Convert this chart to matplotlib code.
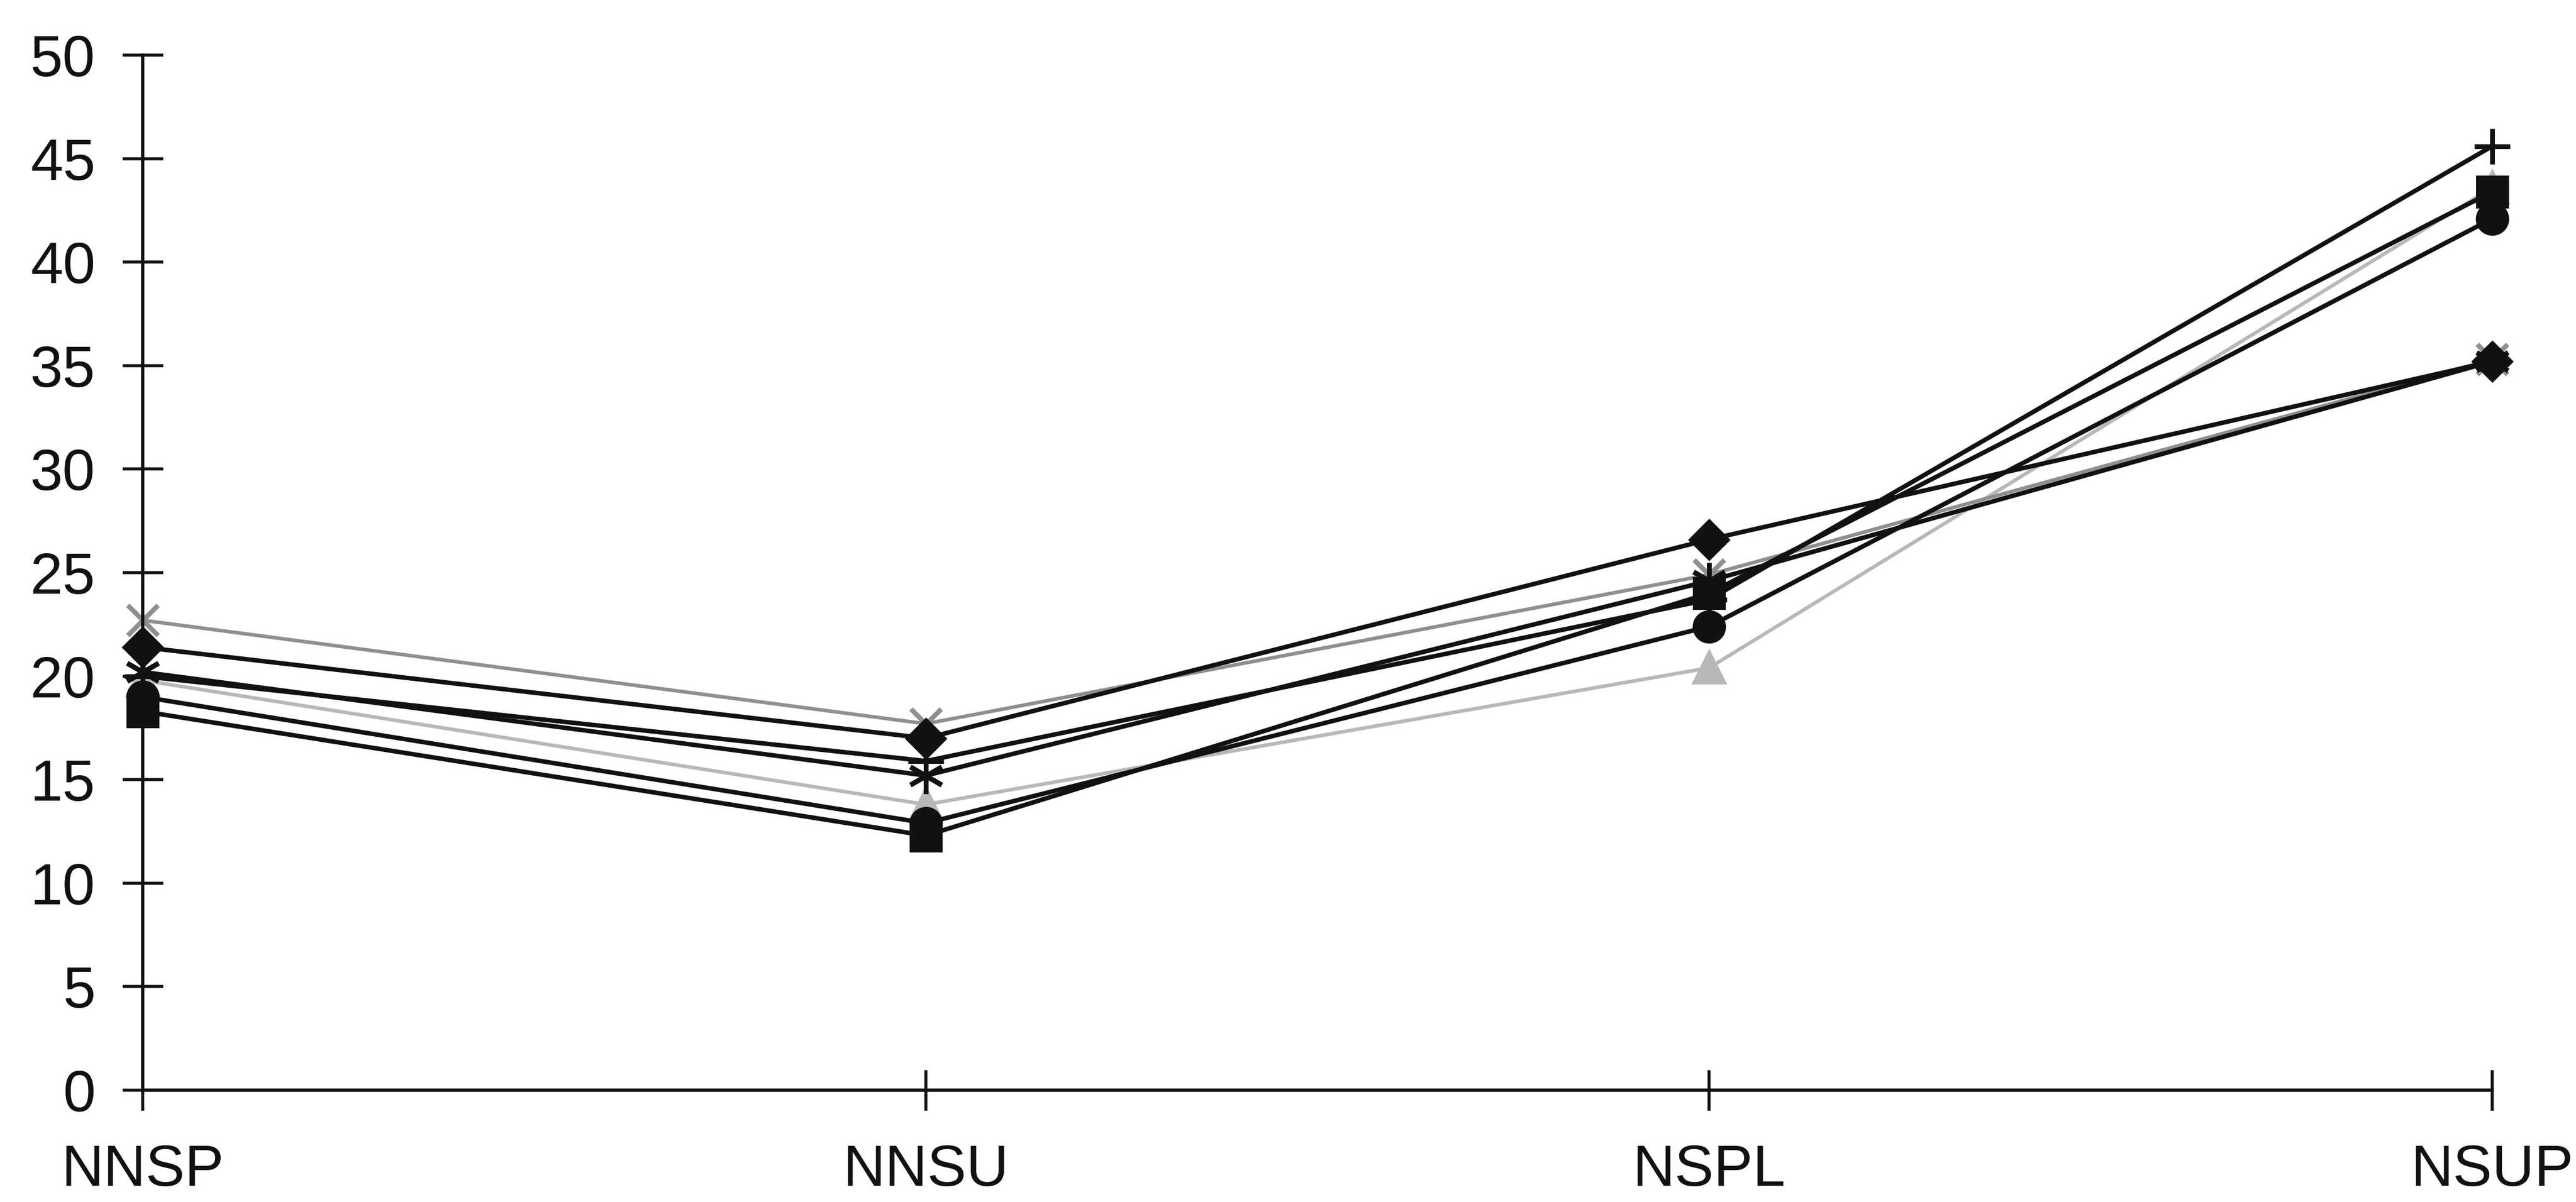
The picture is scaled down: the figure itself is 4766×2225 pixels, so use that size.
import matplotlib.pyplot as plt

plt.rcParams["font.family"] = ["Liberation Sans", "DejaVu Sans"]

CATEGORIES = ["NNSP", "NNSU", "NSPL", "NSUP"]
Y_TICKS = [0, 5, 10, 15, 20, 25, 30, 35, 40, 45, 50]

# values, one list per series
DIAMOND = [21.4, 17.0, 26.6, 35.2]
SQUARE = [18.3, 12.3, 24.0, 43.4]
TRIANGLE = [19.8, 13.8, 20.4, 43.6]
CROSS = [22.7, 17.7, 24.9, 35.3]
STAR = [20.2, 15.2, 24.6, 35.2]
CIRCLE = [19.0, 12.9, 22.4, 42.1]
PLUS = [20.0, 15.9, 23.7, 45.6]

DARK = "#111111"


def plot_series(axes, values, marker, color, size, width=3.0, zorder=3):
    axes.plot(
        range(len(values)),
        values,
        color=color,
        linewidth=width,
        marker=marker,
        markersize=size,
        markeredgewidth=3.2,
        markerfacecolor=color,
        markeredgecolor=color,
        clip_on=False,
        zorder=zorder,
    )


def main():
    fig = plt.figure(figsize=(23.83, 11.125), dpi=200)
    axes = fig.add_axes([0.0554, 0.093, 0.9121, 0.8612])

    # light (yellow / cyan in the original) series sit underneath
    plot_series(axes, TRIANGLE, "^", "#b8b8b8", 19, width=2.4, zorder=2)
    plot_series(axes, CROSS, "x", "#8f8f8f", 20, width=2.4, zorder=2)

    plot_series(axes, DIAMOND, "D", DARK, 17)
    plot_series(axes, SQUARE, "s", DARK, 19)
    plot_series(axes, STAR, (6, 2, 0), DARK, 24)
    plot_series(axes, CIRCLE, "o", DARK, 19)
    plot_series(axes, PLUS, "+", DARK, 24)

    axes.set_xlim(0, len(CATEGORIES) - 1)
    axes.set_ylim(0, 50)
    axes.set_xticks(range(len(CATEGORIES)))
    axes.set_xticklabels(CATEGORIES)
    axes.set_yticks(Y_TICKS)

    for side in ["top", "right"]:
        axes.spines[side].set_visible(False)
    for side in ["left", "bottom"]:
        axes.spines[side].set_linewidth(2.2)
        axes.spines[side].set_color(DARK)

    axes.tick_params(axis="both", direction="inout", length=27, width=2.0,
                     color=DARK, labelsize=39, labelcolor=DARK)
    axes.tick_params(axis="x", pad=22)
    axes.tick_params(axis="y", pad=18)

    fig.savefig("out.png", dpi=200, facecolor="white")


main()
